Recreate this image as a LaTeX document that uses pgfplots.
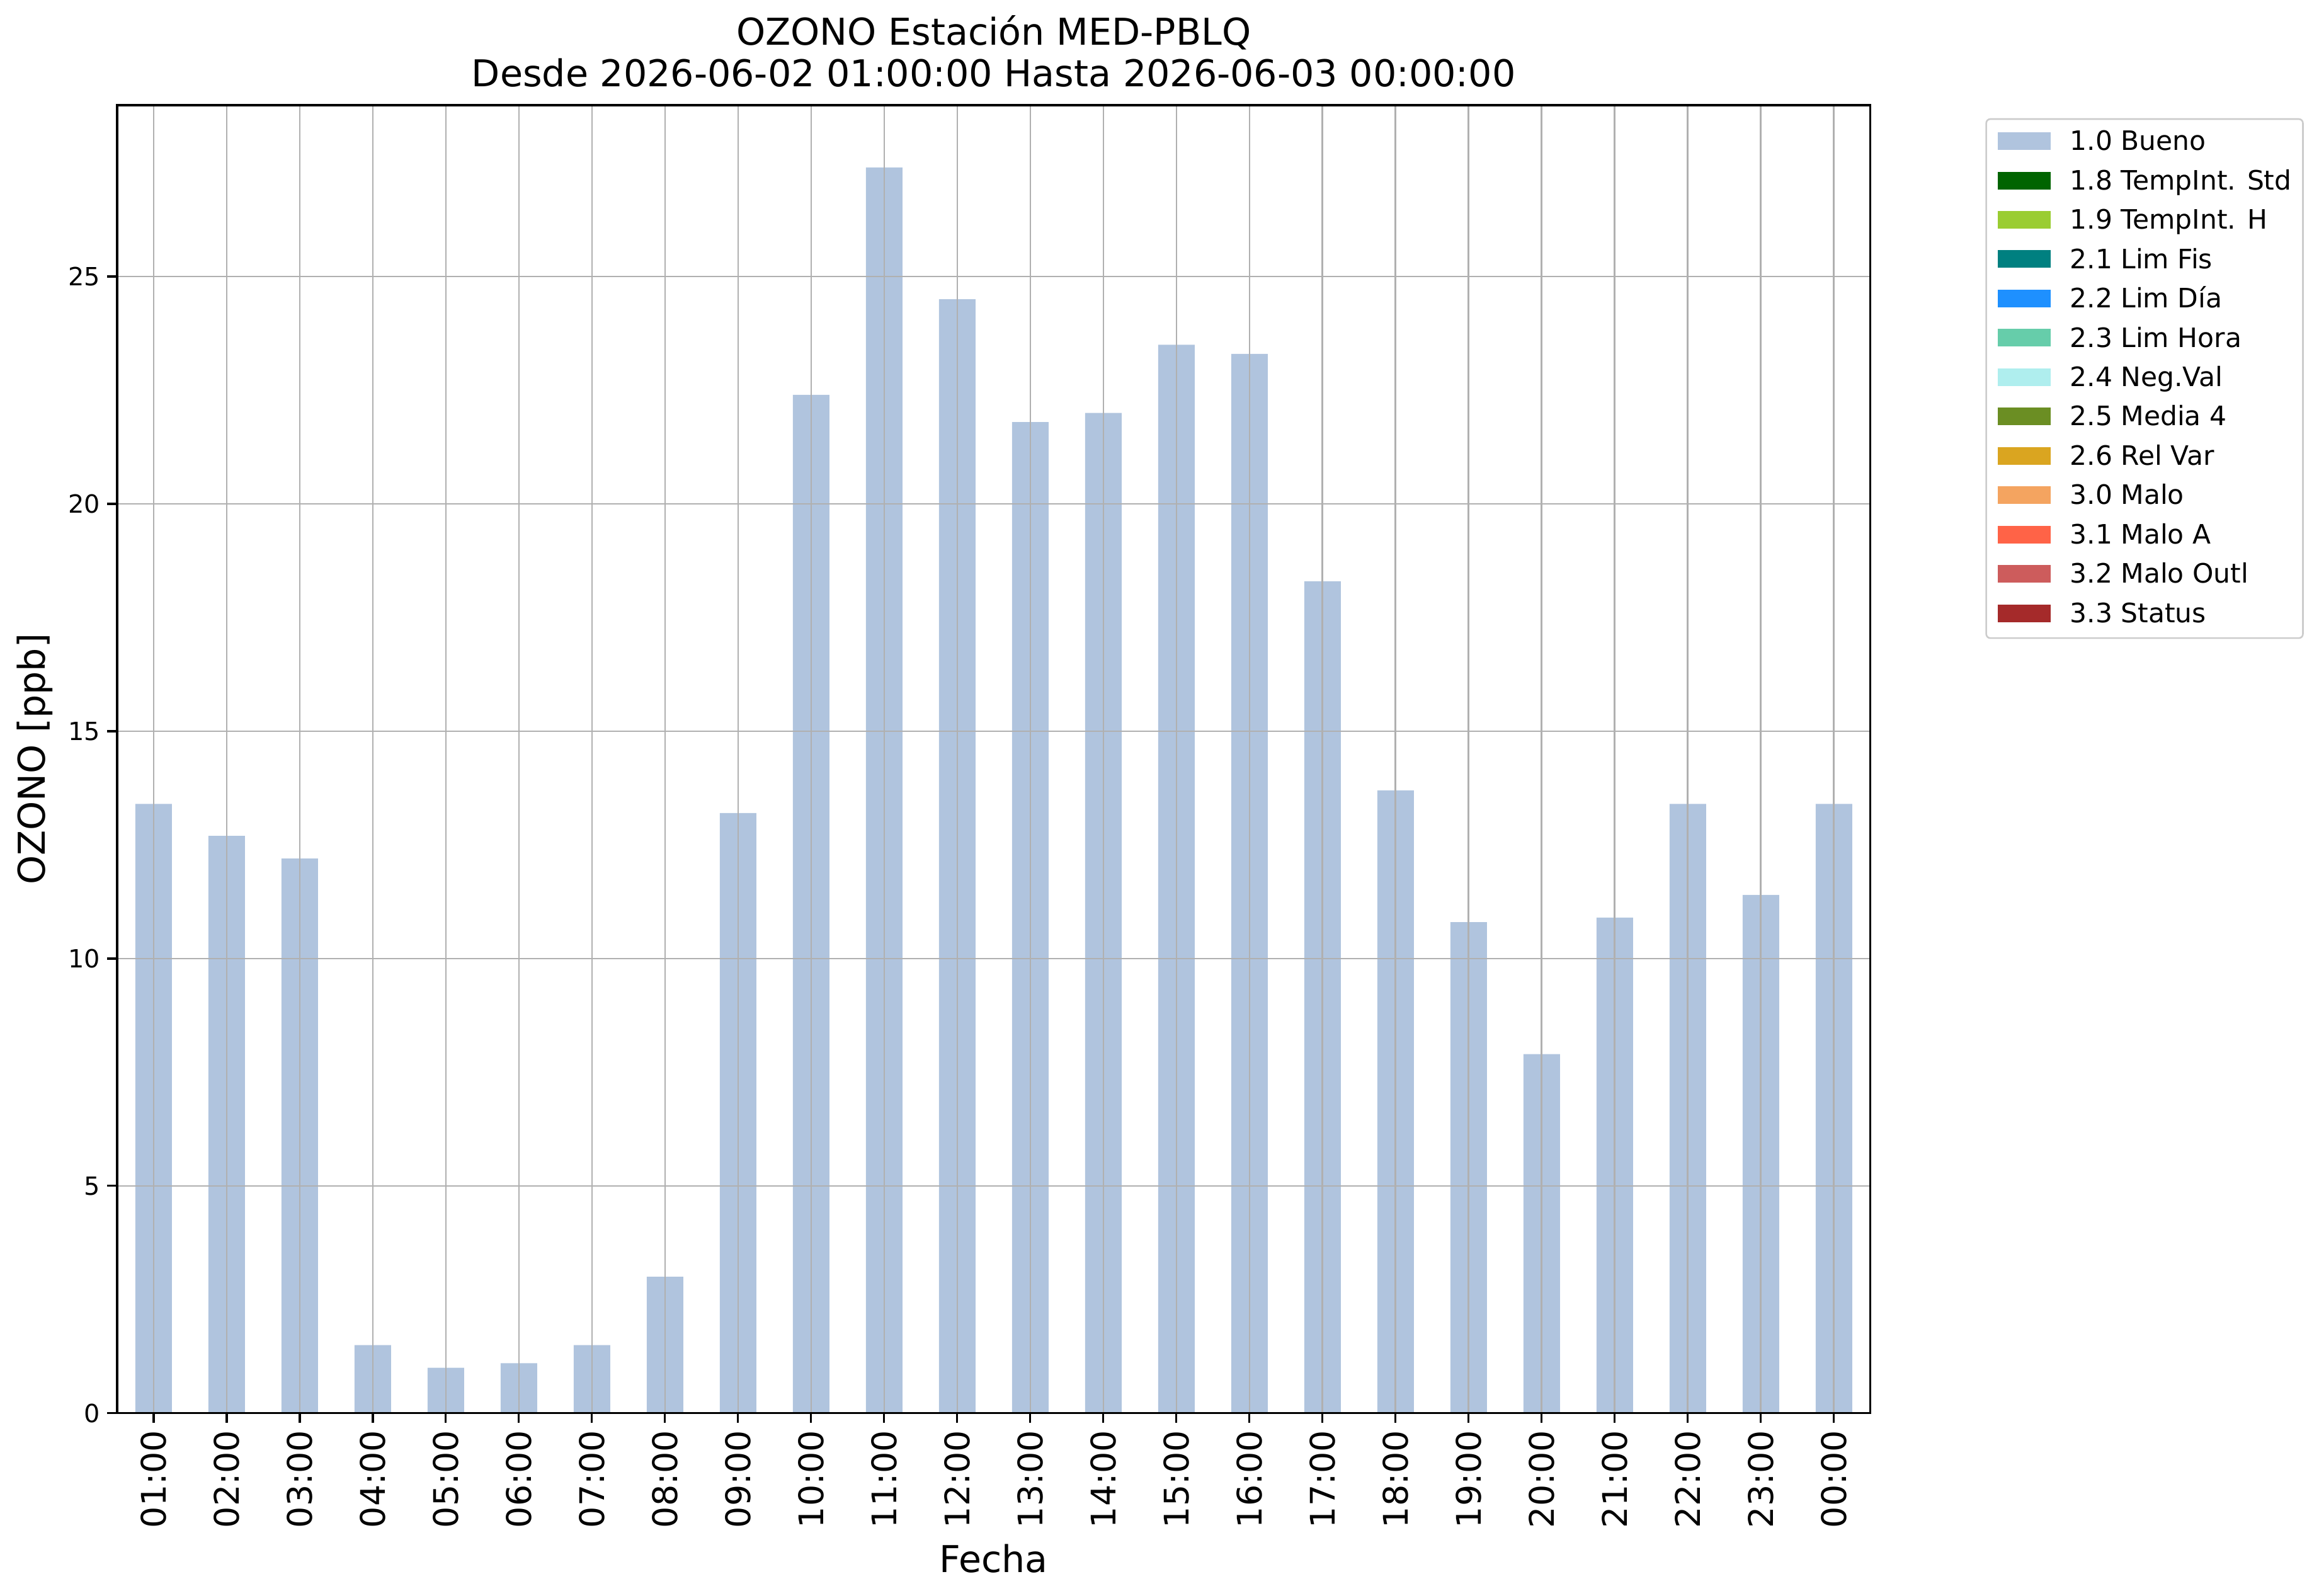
\documentclass[border=0pt]{standalone}
\usepackage{fontspec}
\setmainfont{DejaVu Sans}
\usepackage{pgfplots}
\usepackage{pgfplotstable}
\pgfplotsset{compat=1.18}
\definecolor{bueno}{HTML}{B0C4DE}
\definecolor{c18}{HTML}{006400}
\definecolor{c19}{HTML}{9ACD32}
\definecolor{c21}{HTML}{008080}
\definecolor{c22}{HTML}{1E90FF}
\definecolor{c23}{HTML}{66CDAA}
\definecolor{c24}{HTML}{AFEEEE}
\definecolor{c25}{HTML}{6B8E23}
\definecolor{c26}{HTML}{DAA520}
\definecolor{c30}{HTML}{F4A460}
\definecolor{c31}{HTML}{FF6347}
\definecolor{c32}{HTML}{CD5C5C}
\definecolor{c33}{HTML}{A52A2A}
\definecolor{gridc}{HTML}{B0B0B0}
\pgfplotstableread{
x y
0 13.4
1 12.7
2 12.2
3 1.5
4 1.0
5 1.1
6 1.5
7 3.0
8 13.2
9 22.4
10 27.4
11 24.5
12 21.8
13 22.0
14 23.5
15 23.3
16 18.3
17 13.7
18 10.8
19 7.9
20 10.9
21 13.4
22 11.4
23 13.4
}\datatable
\pgfplotsset{
  patch/.style={legend image code/.code={\path[##1,draw=none,sharp corners] (0pt,-3.6pt) rectangle (25.8pt,5.0pt);}},
}
\begin{document}
\begin{tikzpicture}
\begin{axis}[
  scale only axis, width=853.6pt, height=636.8pt,
  at={(0,0)}, anchor=south west,
  xmin=-0.5, xmax=23.5, ymin=0, ymax=28.77,
  xtick={0,...,23},
  xticklabels={01:00,02:00,03:00,04:00,05:00,06:00,07:00,08:00,09:00,10:00,11:00,12:00,13:00,14:00,15:00,16:00,17:00,18:00,19:00,20:00,21:00,22:00,23:00,00:00},
  ytick={0,5,10,15,20,25},
  /pgf/number format/assume math mode=true,
  tick align=outside, xtick pos=left, ytick pos=left,
  major tick length=4.8pt,
  every tick/.style={black, line width=1pt},
  axis line style={line width=1pt},
  grid=major, major grid style={gridc, line width=0.8pt},
  axis on top,
  xticklabel style={rotate=90, anchor=east, font=\fontsize{16.5}{18}\selectfont},
  yticklabel style={font=\fontsize{12.2}{14}\selectfont},
  title={OZONO Estación MED-PBLQ\\Desde 2026-06-02 01:00:00 Hasta 2026-06-03 00:00:00},
  title style={at={(axis description cs:0.5,1)}, anchor=south, yshift=2.5pt, inner sep=0pt, align=center, font=\fontsize{18}{20.2}\selectfont},
  xlabel={Fecha},
  xlabel style={at={(axis description cs:0.5,-0.1219)}, anchor=base, inner sep=0pt, font=\fontsize{18}{21}\selectfont},
  ylabel={OZONO [ppb]},
  ylabel style={at={(axis description cs:-0.0469,0.5)}, anchor=center, inner sep=0pt, font=\fontsize{18}{21}\selectfont},
  legend style={at={(axis description cs:1.0656,0.99)}, anchor=north west,
    draw=black!20, line width=0.8pt, rounded corners=2pt,
    font=\fontsize{13}{15}\selectfont,
    inner xsep=5.5pt, inner ysep=5.75pt, row sep=7.75pt,
    nodes={inner sep=0pt, text height=9.5pt, text depth=1.9pt},
    /tikz/every odd column/.style={column sep=9.5pt},
    cells={anchor=west}},
]
\addplot[ybar, bar width=0.5, bar shift=0pt, fill=bueno, draw=none, patch] table[x=x,y=y] {\datatable};
\addlegendentry{1.0 Bueno}
\addlegendimage{patch, fill=c18}\addlegendentry{1.8 TempInt. Std}
\addlegendimage{patch, fill=c19}\addlegendentry{1.9 TempInt. H}
\addlegendimage{patch, fill=c21}\addlegendentry{2.1 Lim Fis}
\addlegendimage{patch, fill=c22}\addlegendentry{2.2 Lim Día}
\addlegendimage{patch, fill=c23}\addlegendentry{2.3 Lim Hora}
\addlegendimage{patch, fill=c24}\addlegendentry{2.4 Neg.Val}
\addlegendimage{patch, fill=c25}\addlegendentry{2.5 Media 4}
\addlegendimage{patch, fill=c26}\addlegendentry{2.6 Rel Var}
\addlegendimage{patch, fill=c30}\addlegendentry{3.0 Malo}
\addlegendimage{patch, fill=c31}\addlegendentry{3.1 Malo A}
\addlegendimage{patch, fill=c32}\addlegendentry{3.2 Malo Outl}
\addlegendimage{patch, fill=c33}\addlegendentry{3.3 Status}
\end{axis}
\pgfresetboundingbox
\path[use as bounding box] (-57pt,-88.9pt) rectangle (1072pt,688pt);
\end{tikzpicture}
\end{document}
